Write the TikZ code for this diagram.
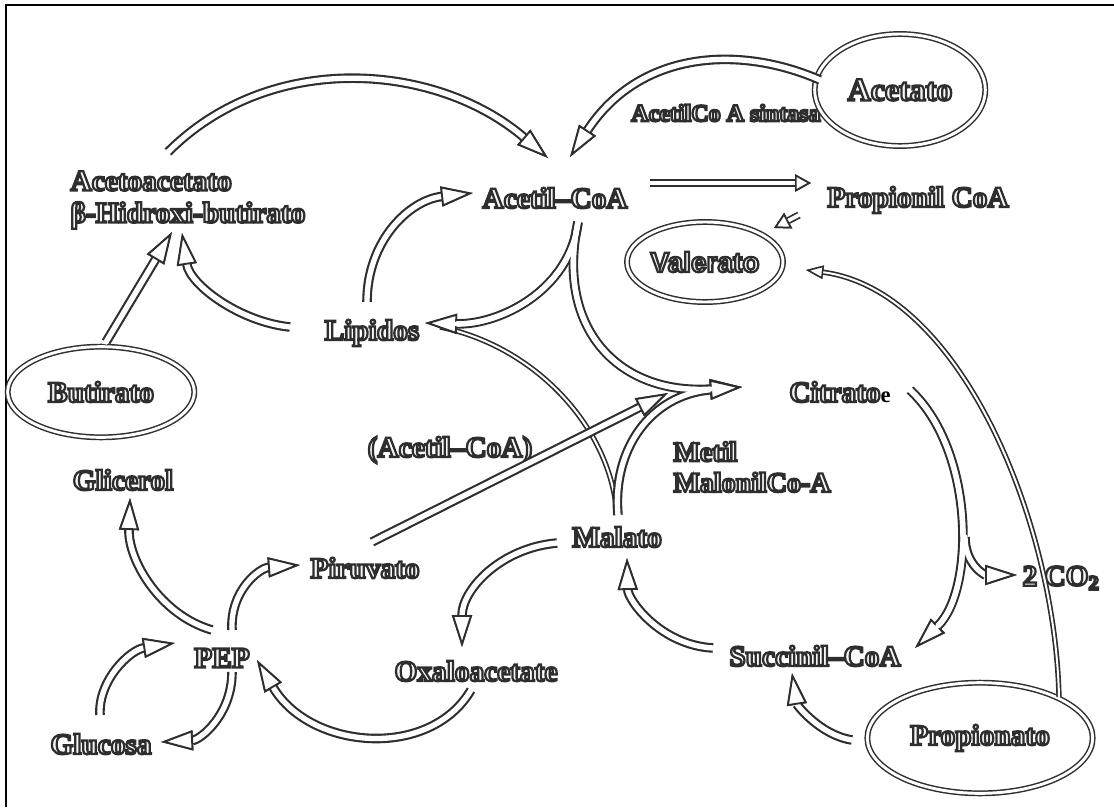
\documentclass[tikz,border=0pt]{standalone}
\usepackage{fontspec}
\setmainfont{Liberation Serif}
\newfontfamily\valfont{Liberation Sans}
\usetikzlibrary{arrows.meta,shapes.geometric,calc}
\definecolor{ink}{HTML}{2E2E2E}
% outlined letters: fill light, stroke dark
\newcommand\ol[1]{\special{pdf:literal direct 2 Tr 1.7 w 0.18 0.18 0.18 RG 0.96 0.96 0.96 rg}#1\special{pdf:literal direct 0 Tr 0 0 0 rg 0 0 0 RG}}
\tikzset{
  lbl/.style={inner sep=1pt, font=\fontsize{22}{24}\selectfont\bfseries},
  small lbl/.style={lbl, font=\fontsize{18}{20}\selectfont\bfseries},
  pool/.style={lbl, ellipse, draw=ink, line width=1.1pt, double=white, double distance=2.2pt, inner sep=0pt},
  flow/.style={draw=white, line width=4pt, line cap=round,
    -{Triangle[length=24pt,width=15pt,color=ink,fill=white,line width=1.4pt]},
    preaction={draw=ink, line width=7.2pt}},
  core/.style={draw=white, line width=4pt, line cap=round, shorten >=24pt},
  slim/.style={draw=white, line width=2.8pt, line cap=round,
    -{Triangle[length=12pt,width=13pt,color=ink,fill=white,line width=1.3pt]},
    preaction={draw=ink, line width=5.4pt}},
  thread/.style={draw=white, line width=1.5pt, line cap=round,
    preaction={draw=ink, line width=4pt}},
}
\begin{document}
\begin{tikzpicture}[x=0.75pt,y=0.75pt,yscale=-1,xscale=1]
\useasboundingbox (0,0) rectangle (1114,807);
%frame, cut at right and bottom
\draw[line width=1.9pt] (1114,5) -- (6,5) -- (6,807);

% Text Nodes
\node[lbl, align=left] (aceto) at (188,200) {\ol{Acetoacetato}\\\ol{β-Hidroxi-butirato}};
\node[lbl] (acoa) at (555,198) {\ol{Acetil–CoA}};
\node[lbl] (propcoa) at (918,200) {\ol{Propionil CoA}};
\node[small lbl] (sintasa) at (726,113) {\ol{AcetilCo A sintasa}};
\node[lbl] (lipidos) at (372,333) {\ol{Lipidos}};
\node[lbl] (glicerol) at (123,480) {\ol{Glicerol}};
\node[lbl] (acoa2) at (450,450) {\ol{(Acetil–CoA)}};
\node[lbl, align=left, font=\fontsize{21}{23}\selectfont\bfseries] (metil) at (752,467) {\ol{Metil}\\\ol{MalonilCo-A}};
\node[lbl] (citrato) at (840,392) {\ol{Citrato}{\fontsize{17}{17}\selectfont e}};
\node[lbl] (malato) at (617,537) {\ol{Malato}};
\node[lbl] (piruvato) at (365,568) {\ol{Piruvato}};
\node[lbl] (co2) at (1061,578) {\ol{2 CO\textsubscript{2}}};
\node[lbl] (pep) at (222,658) {\ol{PEP}};
\node[lbl] (oxalo) at (476,671) {\ol{Oxaloacetate}};
\node[lbl] (succ) at (815,656) {\ol{Succinil–CoA}};
\node[lbl] (glucosa) at (101,744) {\ol{Glucosa}};

% Ellipse Nodes
\node[pool, minimum width=128pt, minimum height=84pt, font=\fontsize{24}{26}\selectfont\bfseries] (acetato) at (900,90) {\ol{Acetato}};
\node[pool, minimum width=117pt, minimum height=60pt, font=\fontsize{21}{23}\selectfont\valfont\bfseries] (valerato) at (705,262) {\ol{Valerato}};
\node[pool, minimum width=140pt, minimum height=68pt] (butirato) at (101,392) {\ol{Butirato}};
\node[pool, minimum width=169pt, minimum height=83pt] (propionato) at (980,738) {\ol{Propionato}};

% upper part
\draw[flow] ($(aceto)+(-20,-48)$) .. controls (271,49) and (437,63) .. ($(acoa)+(-7,-40)$);
\draw[flow] ($(acetato)+(-80,-10)$) .. controls (740,45) and (640,50) .. ($(acoa)+(15,-41)$);
\draw[slim] ($(acoa)+(95,-15)$) -- ($(propcoa)+(-107,-17)$);
\draw[slim] ($(propcoa)+(-119,15)$) -- ($(valerato)+(69,-34)$);
\draw[thread, -{Triangle[length=13pt,width=10pt,color=ink,fill=white,line width=1.1pt]}] ($(propionato)+(79,-41)$) .. controls (1055,520) and (960,290) .. ($(valerato)+(101,8)$);
\draw[flow] ($(butirato)+(5,-50)$) -- ($(aceto)+(-16,32)$);
\draw[flow] ($(lipidos)+(-82,-6)$) .. controls (240,322) and (190,285) .. ($(aceto)+(-6,33)$);
\draw[flow] ($(lipidos)+(-5,-31)$) .. controls (367,240) and (410,200) .. ($(acoa)+(-82,-5)$);

% the star round Acetil-CoA, Lipidos, Malato
\draw[thread] ($(malato)+(-1,-32)$) .. controls (605,420) and (530,345) .. ($(lipidos)+(68,-6)$);
\draw[flow] ($(acoa)+(23,24)$) .. controls (570,290) and (500,325) .. ($(lipidos)+(53,-10)$);
\draw[flow] ($(acoa)+(23,24)$) .. controls (555,330) and (620,395) .. ($(citrato)+(-98,-5)$);
\draw[flow] ($(malato)+(1,-22)$) .. controls (612,450) and (650,395) .. ($(citrato)+(-98,-5)$);
\draw[core] ($(acoa)+(23,24)$) .. controls (570,290) and (500,325) .. ($(lipidos)+(53,-10)$);
\draw[core] ($(acoa)+(23,24)$) .. controls (555,330) and (620,395) .. ($(citrato)+(-98,-5)$);
\draw[flow] ($(piruvato)+(7,-26)$) -- ($(citrato)+(-172,1)$);

% cycle
\coordinate (split) at (965,537);
\draw[flow] ($(citrato)+(70,-2)$) .. controls (975,450) and (975,590) .. ($(succ)+(100,-8)$);
\draw[flow] (split) .. controls (965,565) and (985,575) .. ($(co2)+(-44,-3)$);
\draw[core] ($(citrato)+(70,-2)$) .. controls (975,450) and (975,590) .. ($(succ)+(100,-8)$);
\draw[flow] ($(succ)+(-102,-8)$) .. controls (660,645) and (628,600) .. ($(malato)+(10,21)$);
\draw[flow] ($(propionato)+(-128,2)$) .. controls (820,735) and (797,705) .. ($(succ)+(-23,17)$);
\draw[flow] ($(malato)+(-60,6)$) .. controls (500,548) and (462,590) .. ($(oxalo)+(-14,-24)$);
\draw[flow] ($(oxalo)+(-5,19)$) .. controls (430,760) and (310,750) .. ($(pep)+(35,2)$);

% round PEP
\draw[flow] ($(pep)+(-10,-28)$) .. controls (160,615) and (128,560) .. ($(glicerol)+(7,18)$);
\draw[flow] ($(pep)+(10,-28)$) .. controls (230,590) and (260,568) .. ($(piruvato)+(-65,-3)$);
\draw[flow] ($(glucosa)+(-1,-29)$) .. controls (98,680) and (130,650) .. ($(pep)+(-47,-15)$);
\draw[flow] ($(pep)+(10,14)$) .. controls (232,715) and (200,740) .. ($(glucosa)+(60,-2)$);
\end{tikzpicture}
\end{document}
